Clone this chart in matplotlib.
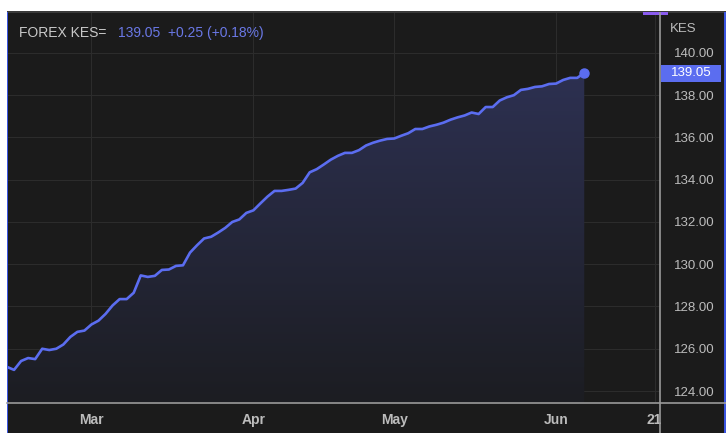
import numpy as np
import pandas as pd
import matplotlib
matplotlib.use("Agg")
import matplotlib.pyplot as plt
from matplotlib.patches import Rectangle
from matplotlib.colors import LinearSegmentedColormap
import matplotlib.transforms as mtransforms

plt.rcParams['font.family'] = ['Liberation Sans', 'DejaVu Sans']

# daily USD/KES close, business days 2023-02-13 .. 2023-06-07
dates = pd.bdate_range('2023-02-13', '2023-06-07')
rates = [125.14, 125.00, 125.42, 125.56, 125.51, 126.00, 125.94, 126.00, 126.20, 126.56,
         126.80, 126.86, 127.15, 127.33, 127.65, 128.05, 128.35, 128.35, 128.65, 129.47,
         129.40, 129.45, 129.73, 129.75, 129.92, 129.95, 130.55, 130.90, 131.22, 131.30,
         131.50, 131.72, 132.00, 132.12, 132.43, 132.55, 132.88, 133.20, 133.47, 133.47,
         133.52, 133.58, 133.85, 134.35, 134.50, 134.72, 134.95, 135.13, 135.27, 135.27,
         135.40, 135.62, 135.75, 135.85, 135.93, 135.95, 136.08, 136.20, 136.40, 136.40,
         136.52, 136.60, 136.70, 136.84, 136.95, 137.04, 137.18, 137.11, 137.44, 137.44,
         137.75, 137.90, 138.00, 138.25, 138.30, 138.39, 138.42, 138.53, 138.55, 138.72,
         138.82, 138.82, 139.05]
y_ticks = [124, 126, 128, 130, 132, 134, 136, 138, 140]
month_ticks = ['2023-03-01', '2023-04-03', '2023-05-01', '2023-06-01', '2023-06-21']
month_labels = ['Mar', 'Apr', 'May', 'Jun', '21']
title = "FOREX KES="
quote = "139.05  +0.25 (+0.18%)"

bg = '#1b1b1b'
line_c = '#5b6df0'
grid_c = '#2c2c2c'
txt_c = '#bcbcbc'

W, H = 726, 433
fig = plt.figure(figsize=(W / 100, H / 100), dpi=100, facecolor='white')

# dark panel (below the white strip)
fig.patches.append(Rectangle((7 / W, 0), 1 - 7 / W, 1 - 12 / H, transform=fig.transFigure,
                             facecolor=bg, edgecolor='none', zorder=0))
fig.patches.append(Rectangle((7 / W, 1 - 13 / H), 1 - 7 / W, 1.5 / H, transform=fig.transFigure,
                             facecolor='#3a3a3a', edgecolor='none', zorder=1))
fig.patches.append(Rectangle((643 / W, 1 - 14.5 / H), 25 / W, 2.5 / H, transform=fig.transFigure,
                             facecolor='#8b5cf0', edgecolor='none', zorder=5))
fig.patches.append(Rectangle((6.5 / W, 0), 1.5 / W, 1 - 12 / H, transform=fig.transFigure,
                             facecolor='#3b55e0', edgecolor='none', zorder=5))
fig.patches.append(Rectangle((724 / W, 0), 1.5 / W, 1 - 12 / H, transform=fig.transFigure,
                             facecolor='#3b55e0', edgecolor='none', zorder=5))
# corner under the price scale hides the clipped "21"
fig.patches.append(Rectangle((661 / W, 0), 63 / W, 29 / H, transform=fig.transFigure,
                             facecolor=bg, edgecolor='none', zorder=4))

ax = fig.add_axes([7 / W, 1 - 402 / H, (660 - 7) / W, (402 - 13) / H])
ax.set_zorder(3)
ax.set_facecolor(bg)

x = np.arange(len(rates))
vals = np.array(rates)
ymin, ymax = 123.48, 141.89
ax.set_xlim(0, 92.76)
ax.set_ylim(ymin, ymax)

# gradient area under the line
cmap = LinearSegmentedColormap.from_list('g', ['#1c1d22', '#30345a'])
grad = np.linspace(0, 1, 256).reshape(-1, 1)
im = ax.imshow(grad, cmap=cmap, aspect='auto', origin='lower',
               extent=[x[0], x[-1], ymin, ymax], zorder=1)
poly = ax.fill_between(x, vals, ymin, facecolor='none', edgecolor='none')
im.set_clip_path(poly.get_paths()[0], transform=ax.transData)

ax.plot(x, vals, color=line_c, lw=1.9, zorder=3, solid_joinstyle='round')
ax.plot(x[-1], vals[-1], 'o', color=line_c, ms=6.5, zorder=4)

# ticks / grid
pos = [dates.get_indexer([pd.Timestamp(d)])[0] if pd.Timestamp(d) in dates
       else len(dates) - 1 + len(pd.bdate_range(dates[-1], d)) - 1 for d in month_ticks]
ax.set_xticks(pos)
ax.set_xticklabels(month_labels, color=txt_c, fontsize=10, fontweight='bold')
ax.set_yticks(y_ticks)
ax.set_yticklabels([f"{v:.2f}" for v in y_ticks], color=txt_c, fontsize=9.5)
ax.yaxis.tick_right()
for lab in ax.get_yticklabels():
    lab.set_horizontalalignment('left')
ax.tick_params(axis='y', length=0, pad=10)
ax.tick_params(axis='x', length=0, pad=8)
ax.grid(True, color=grid_c, lw=0.8, zorder=0)
ax.set_axisbelow(True)
for s in ax.spines.values():
    s.set_visible(False)

# axis separators
fig.add_artist(plt.Line2D([7 / W, 1], [1 - 403 / H] * 2, color='#9a9a9a', lw=1.2, zorder=6))
fig.add_artist(plt.Line2D([660 / W] * 2, [0, 1 - 13 / H], color='#9a9a9a', lw=1.2, zorder=6))

# last price tag
trans = mtransforms.blended_transform_factory(fig.transFigure, ax.transData)
half = 8.5 / 21.125
ax.add_patch(Rectangle((661 / W, vals[-1] - half), 60 / W, 2 * half, transform=trans,
                       facecolor=line_c, edgecolor='none', zorder=5, clip_on=False))
ax.text(691 / W, vals[-1], "139.05", transform=trans, ha='center', va='center',
        color='white', fontsize=9.5, zorder=6, clip_on=False)

fig.text(670 / W, 1 - 29 / H, "KES", color=txt_c, fontsize=9.5, va='center', ha='left', zorder=6)
fig.text(19 / W, 1 - 33 / H, title, color='#c8c8c8', fontsize=10, va='center', ha='left', zorder=6)
fig.text(118 / W, 1 - 33 / H, quote, color='#6a78e6', fontsize=10, va='center', ha='left', zorder=6)

fig.savefig('out.png', dpi=100, facecolor=fig.get_facecolor())
